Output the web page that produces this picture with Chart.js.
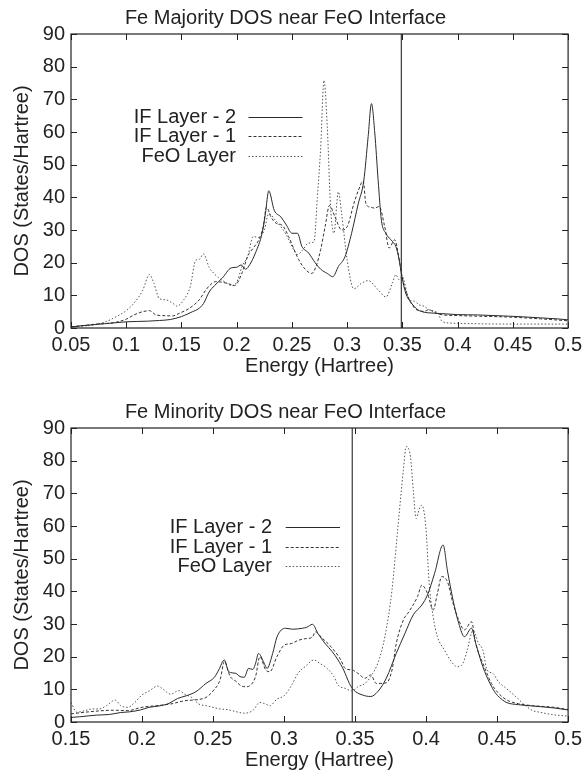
<!DOCTYPE html>
<html><head><meta charset="utf-8">
<script src="https://cdn.jsdelivr.net/npm/chart.js@4"></script>
<style>
html,body{margin:0;padding:0;background:#fff}
canvas{display:block}
</style></head>
<body>
<canvas id="majChart" width="587" height="394"></canvas>
<canvas id="minChart" width="587" height="383"></canvas>
<script>
// --- Fe majority (top) ---
const majIF2E = [0.05,0.06,0.07,0.08,0.09,0.1,0.11,0.12,0.13,0.14,0.15,0.155,0.16,0.165,0.17,0.175,0.18,0.187,0.195,0.2,0.204,0.208,0.212,0.217,0.223,0.226,0.229,0.234,0.24,0.245,0.25,0.255,0.259,0.265,0.271,0.276,0.282,0.287,0.292,0.298,0.304,0.31,0.315,0.319,0.322,0.325,0.328,0.331,0.335,0.341,0.344,0.347,0.3495,0.353,0.358,0.364,0.37,0.376,0.385,0.4,0.418,0.433,0.448,0.46,0.475,0.49,0.5];
const majIF2 = [0.3,0.7,1.0,1.3,1.6,1.9,2.0,2.1,2.3,2.6,3.5,4.2,5.0,5.8,7.5,11,13,15.3,18.4,18.6,19.3,18,19.5,23,29,35,42,36,34,31.5,29,29,25,23,20,18,16.7,15.7,18.8,21.8,29,38,45,58.6,68.7,59.7,45.4,33,29,26.5,25,21,15.8,10.7,7.7,5.6,4.8,4.6,4.4,4.1,4.0,3.8,3.6,3.4,3.1,2.8,2.5];

const majIF1E = [0.05,0.06,0.073,0.088,0.1,0.107,0.115,0.121,0.127,0.133,0.142,0.148,0.157,0.166,0.172,0.176,0.181,0.187,0.193,0.198,0.205,0.21,0.215,0.22,0.224,0.227,0.231,0.236,0.241,0.247,0.252,0.256,0.262,0.268,0.272,0.276,0.28,0.284,0.289,0.295,0.3,0.306,0.31,0.3145,0.317,0.321,0.325,0.329,0.334,0.338,0.343,0.345,0.35,0.355,0.361,0.366,0.37,0.374,0.379,0.385,0.4,0.42,0.45,0.475,0.5];
const majIF1 = [0.4,0.7,1.2,1.6,2.7,4,5,5.3,4,3.8,3.7,4.5,6,8.6,11.6,13.2,14.2,14,13.5,13,17,22,24.5,27,31,37,34,32,31.5,28,24,21,18,16.7,19,24,31,37.5,34,30,31,38,42,45,38,37,36.7,37.2,31,24.5,27,25,15.3,9.7,6.1,5.2,5.1,5.6,4.8,4.1,3.8,3.6,3.3,2.8,2.2];

const majFeOE = [0.05,0.061,0.07,0.082,0.091,0.1,0.107,0.115,0.121,0.125,0.13,0.136,0.142,0.146,0.152,0.158,0.163,0.166,0.17,0.175,0.18,0.185,0.19,0.195,0.2,0.205,0.21,0.215,0.22,0.225,0.229,0.235,0.24,0.245,0.25,0.255,0.26,0.265,0.27,0.273,0.276,0.279,0.282,0.285,0.288,0.292,0.295,0.3,0.306,0.313,0.319,0.328,0.335,0.341,0.344,0.347,0.35,0.352,0.356,0.361,0.365,0.37,0.374,0.382,0.386,0.394,0.418,0.45,0.5];
const majFeO = [0.3,0.6,0.9,2,3.5,5.3,7.6,11.6,16.4,13.7,9,8.6,7.6,6.7,8.6,12.7,20.8,21,22.7,18.6,16.5,15,14,13,14,19,22,28,27.7,30,35,33,31,28.5,25,22.5,24,26,26.4,40,55,75.8,61.6,37,29,41.7,35,20.8,12,13.7,14.5,11.7,9.5,13.8,16.3,14.8,15.8,13.8,8.7,8.2,7.1,6.6,5.6,4.6,2,1.5,1.3,1.2,1.2];

const majFermi = 0.349;

// --- Fe minority (bottom) ---
const minIF2E = [0.15,0.156,0.168,0.177,0.185,0.191,0.199,0.205,0.212,0.219,0.225,0.231,0.238,0.245,0.251,0.254,0.258,0.261,0.266,0.269,0.272,0.275,0.278,0.28,0.282,0.286,0.288,0.292,0.295,0.301,0.306,0.313,0.316,0.32,0.324,0.329,0.334,0.338,0.342,0.346,0.349,0.355,0.361,0.366,0.372,0.379,0.385,0.391,0.397,0.401,0.406,0.412,0.415,0.419,0.423,0.427,0.432,0.435,0.44,0.445,0.449,0.454,0.457,0.465,0.475,0.49,0.5];
const minIF2 = [1.4,1.6,2.1,2.3,2.9,3.1,3.7,4.5,4.9,5.7,7.2,8,9.3,11.8,13.7,15.9,19,15.4,14.9,13.9,13.7,16.4,16.1,18,21,18,16.4,21,26,28.7,28.4,28.7,29,29.9,27,24,21.5,19,15.9,11.8,9.8,8.3,7.8,9.3,13.4,21,27,32.8,35.8,38.9,45.5,54.2,46.5,37.3,30.2,26.1,28.7,24,16.9,11.8,8.8,6.7,5.9,5.3,4.9,4.3,3.7];

const minIF1E = [0.15,0.16,0.17,0.18,0.19,0.2,0.21,0.22,0.23,0.24,0.245,0.25,0.255,0.258,0.262,0.266,0.27,0.273,0.277,0.28,0.283,0.287,0.29,0.295,0.3,0.305,0.31,0.315,0.32,0.322,0.327,0.331,0.336,0.34,0.343,0.348,0.352,0.357,0.361,0.365,0.372,0.376,0.379,0.384,0.388,0.394,0.397,0.401,0.405,0.408,0.411,0.415,0.419,0.423,0.427,0.432,0.435,0.441,0.446,0.451,0.457,0.465,0.475,0.49,0.5];
const minIF1 = [2.5,3,3.4,3.6,3.5,4.5,5,5.5,6.5,6.9,7.5,9.5,13,18.5,14,12.5,11,10.8,11.5,14,20,16,15.4,20,23.5,24,25,25.5,26,27.6,25.6,24,21.5,19,16.4,15.9,14.9,13.4,14.4,11.8,12,15.9,24,31.2,33.8,38.4,41.9,39.4,34.3,39.4,44.5,43,36.3,31.2,28.2,30.7,24,16.9,11.8,8.8,6.7,5.6,5,4.5,3.8];

const minFeOE = [0.15,0.154,0.16,0.165,0.17,0.175,0.181,0.185,0.19,0.195,0.2,0.205,0.211,0.215,0.22,0.226,0.23,0.235,0.24,0.245,0.25,0.255,0.26,0.265,0.272,0.278,0.283,0.287,0.29,0.295,0.3,0.305,0.31,0.315,0.321,0.325,0.33,0.335,0.338,0.343,0.348,0.352,0.357,0.361,0.366,0.371,0.376,0.38,0.384,0.386,0.389,0.391,0.393,0.395,0.397,0.4,0.402,0.405,0.408,0.413,0.417,0.422,0.426,0.429,0.433,0.437,0.44,0.443,0.447,0.451,0.455,0.46,0.465,0.47,0.475,0.48,0.49,0.5];
const minFeO = [6,3,3.5,4,4,5,6.7,5,4.5,6,8.3,9.5,11,10,8.5,9.6,8.5,7.5,5.5,5,4.5,4,3.8,3.3,2.7,3.5,6,5.5,5,7,8,11,15,17,19,18,16.5,14,11.3,10.3,9.5,10.8,11.8,13.9,18,26.1,40.4,58.8,77.1,84.3,81.2,71,62.3,64.9,66.4,58.8,43.5,32.2,26.1,22,19,16.9,18,22,28,24,22,15.9,14.9,12.3,10.8,9,7,5,3.5,3,2.2,1.8];

const minFermi = 0.348;

const seriesLabels = ['IF Layer - 2', 'IF Layer - 1', 'FeO Layer'];
const FONT = '"Liberation Sans", Arial, Helvetica, sans-serif';
const INK = '#222';

Chart.defaults.font.family = FONT;
Chart.defaults.color = INK;

const pts = (xs, ys) => xs.map((x, i) => ({x, y: ys[i]}));

function series(label, xs, ys, dash, color){
  return {label, data: pts(xs, ys), borderColor: color, borderWidth: 1, borderDash: dash,
    pointRadius: 0, fill: false, cubicInterpolationMode: 'monotone'};
}

// gnuplot style frame with inward ticks on all four sides
const framePlugin = {
  id: 'gpFrame',
  afterDatasetsDraw(chart){
    const {ctx, chartArea: a, scales: {x, y}} = chart;
    ctx.save();
    ctx.strokeStyle = INK; ctx.lineWidth = 1.2;
    ctx.strokeRect(a.left, a.top, a.right - a.left, a.bottom - a.top);
    ctx.lineWidth = 1;
    ctx.beginPath();
    x.ticks.forEach(t => {
      const px = Math.round(x.getPixelForValue(t.value)) + 0.5;
      ctx.moveTo(px, a.bottom); ctx.lineTo(px, a.bottom - 6);
      ctx.moveTo(px, a.top); ctx.lineTo(px, a.top + 6);
    });
    y.ticks.forEach(t => {
      const py = Math.round(y.getPixelForValue(t.value)) + 0.5;
      ctx.moveTo(a.left, py); ctx.lineTo(a.left + 6, py);
      ctx.moveTo(a.right, py); ctx.lineTo(a.right - 6, py);
    });
    ctx.stroke();
    ctx.restore();
  }
};

// key: text right-aligned, line sample to the right of it
function legendPlugin(pos){
  return {
    id: 'gpLegend',
    afterDraw(chart){
      const {ctx, chartArea: a} = chart;
      ctx.save();
      ctx.font = '20px ' + FONT;
      ctx.textAlign = 'right'; ctx.textBaseline = 'middle';
      chart.data.datasets.filter(d => !d.fermi).forEach((d, i) => {
        const yy = Math.round(a.top + pos.row + i * pos.gap) + 0.5;
        ctx.fillStyle = INK;
        ctx.fillText(d.label, a.left + pos.text, yy);
        ctx.strokeStyle = d.borderColor; ctx.lineWidth = 1;
        ctx.setLineDash(d.borderDash);
        ctx.beginPath();
        ctx.moveTo(a.left + pos.l0, yy); ctx.lineTo(a.left + pos.l1, yy);
        ctx.stroke();
      });
      ctx.restore();
    }
  };
}

function makeChart(id, title, xs, fermi, xmin, axisH, titlePad, legendPos){
  const datasets = [
    series(seriesLabels[0], xs[0][0], xs[0][1], [], '#2a2a2a'),
    series(seriesLabels[1], xs[1][0], xs[1][1], [3, 2], '#333'),
    series(seriesLabels[2], xs[2][0], xs[2][1], [1.5, 2], '#555'),
    {label: '', fermi: true, data: [{x: fermi, y: 0}, {x: fermi, y: 90}], borderColor: '#111', borderWidth: 1, pointRadius: 0}
  ];
  return new Chart(document.getElementById(id), {
    type: 'line',
    data: {datasets},
    options: {
      responsive: false, animation: false, devicePixelRatio: 1,
      layout: {padding: {left: 0, right: 16, top: 0, bottom: 0}},
      plugins: {
        legend: {display: false}, tooltip: {enabled: false},
        title: {display: true, text: title, color: INK, font: {size: 20, weight: 'normal', lineHeight: 1.2}, padding: {top: 6, bottom: 4}}
      },
      scales: {
        x: {type: 'linear', min: xmin, max: 0.5,
          grid: {display: false, drawTicks: false}, border: {display: false},
          ticks: {stepSize: 0.05, autoSkip: false, maxRotation: 0, padding: 5, color: INK,
            font: {size: 20, lineHeight: 1.2}, callback: v => String(Math.round(v * 100) / 100)},
          title: {display: true, text: 'Energy (Hartree)', color: INK, font: {size: 20, lineHeight: 1.2}, padding: {top: 0, bottom: titlePad}},
          afterFit: s => { s.height = axisH; }
        },
        y: {min: 0, max: 90,
          grid: {display: false, drawTicks: false}, border: {display: false},
          ticks: {stepSize: 10, padding: 6, color: INK, font: {size: 20}},
          title: {display: true, text: 'DOS (States/Hartree)', color: INK, font: {size: 20, lineHeight: 1.2}, padding: {top: 10.5, bottom: 0}},
          afterFit: s => { s.width = 71; }
        }
      }
    },
    plugins: [framePlugin, legendPlugin(legendPos)]
  });
}

makeChart('majChart', 'Fe Majority DOS near FeO Interface',
  [[majIF2E, majIF2], [majIF1E, majIF1], [majFeOE, majFeO]], majFermi, 0.05, 66, 16,
  {text: 165, l0: 177.5, l1: 231.5, row: 82.7, gap: 19.7});
makeChart('minChart', 'Fe Minority DOS near FeO Interface',
  [[minIF2E, minIF2], [minIF1E, minIF1], [minFeOE, minFeO]], minFermi, 0.15, 55, 5,
  {text: 201, l0: 214.7, l1: 269, row: 99, gap: 19.5});
</script>
</body></html>
